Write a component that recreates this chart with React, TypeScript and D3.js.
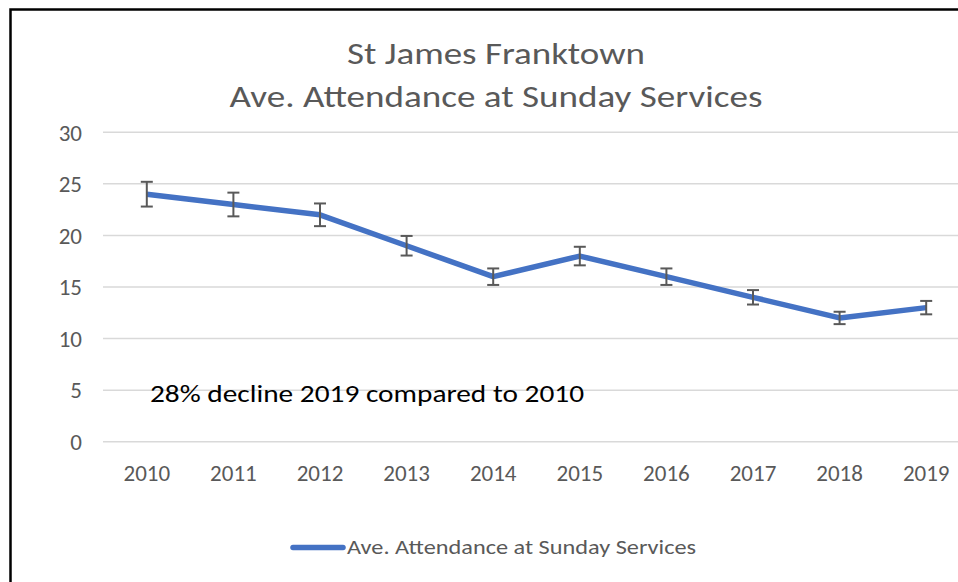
import React from "react";
import * as d3 from "d3";

const years = ["2010", "2011", "2012", "2013", "2014", "2015", "2016", "2017", "2018", "2019"];
const attendance = [24, 23, 22, 19, 16, 18, 16, 14, 12, 13];
const errors = [1.2, 1.15, 1.1, 0.95, 0.8, 0.9, 0.8, 0.7, 0.6, 0.65];
const yTicks = [0, 5, 10, 15, 20, 25, 30];
const titleLines = ["St James Franktown", "Ave. Attendance at Sunday Services"];
const seriesName = "Ave. Attendance at Sunday Services";
const annotation = "28% decline 2019 compared to 2010";

const W = 958;
const H = 582;
const FONT = "Carlito, Calibri, Lato, 'Open Sans', sans-serif";

export default function App() {
  const x = d3.scaleBand<string>().domain(years).range([103.5, 969.5]).paddingInner(0).paddingOuter(0);
  const y = d3.scaleLinear().domain([0, 30]).range([441.7, 132.3]);
  const cx = (yr: string) => (x(yr) as number) + x.bandwidth() / 2;

  const line = d3
    .line<number>()
    .x((_, i) => cx(years[i]))
    .y((d) => y(d));

  const titleWidths = [298, 533];

  return (
    <svg
      width={W}
      height={H}
      style={{ position: "absolute", left: 0, top: 0, background: "#fff" }}
      fontFamily={FONT}
    >
      <rect x={0} y={0} width={W} height={H} fill="#fff" />
      {/* border */}
      <path d={`M10.5,${H} V9.5 H${W}`} fill="none" stroke="#000" strokeWidth={2.5} />

      {/* title */}
      {titleLines.map((t, i) => (
        <text
          key={t}
          x={496 - titleWidths[i] / 2}
          y={64 + i * 43}
          fontSize={30}
          fill="#595959"
          textLength={titleWidths[i]}
          lengthAdjust="spacingAndGlyphs"
        >
          {t}
        </text>
      ))}

      {/* gridlines */}
      {yTicks.map((t) => (
        <line key={t} x1={103} x2={W} y1={y(t)} y2={y(t)} stroke="#d9d9d9" strokeWidth={1.5} />
      ))}

      {/* y tick labels */}
      {yTicks.map((t) => (
        <text key={t} x={82} y={y(t)} dy="0.36em" textAnchor="end" fontSize={23} fill="#595959">
          {t}
        </text>
      ))}

      {/* x tick labels */}
      {years.map((yr) => (
        <text key={yr} x={cx(yr)} y={481} textAnchor="middle" fontSize={23} fill="#595959">
          {yr}
        </text>
      ))}

      {/* annotation */}
      <text x={150} y={402} fontSize={25} fill="#000" textLength={434} lengthAdjust="spacingAndGlyphs">
        {annotation}
      </text>

      {/* series line */}
      <path d={line(attendance) || ""} fill="none" stroke="#4472C4" strokeWidth={5.5} strokeLinejoin="round" />

      {/* error bars */}
      {attendance.map((v, i) => {
        const px = cx(years[i]);
        const top = y(v + errors[i]);
        const bot = y(v - errors[i]);
        return (
          <g key={years[i]} stroke="#595959" strokeWidth={2}>
            <line x1={px} x2={px} y1={top} y2={bot} />
            <line x1={px - 6} x2={px + 6} y1={top} y2={top} />
            <line x1={px - 6} x2={px + 6} y1={bot} y2={bot} />
          </g>
        );
      })}

      {/* legend */}
      <line x1={293} x2={343} y1={547.5} y2={547.5} stroke="#4472C4" strokeWidth={5.5} strokeLinecap="round" />
      <text x={347} y={554} fontSize={20} fill="#595959" textLength={349} lengthAdjust="spacingAndGlyphs">
        {seriesName}
      </text>
    </svg>
  );
}
